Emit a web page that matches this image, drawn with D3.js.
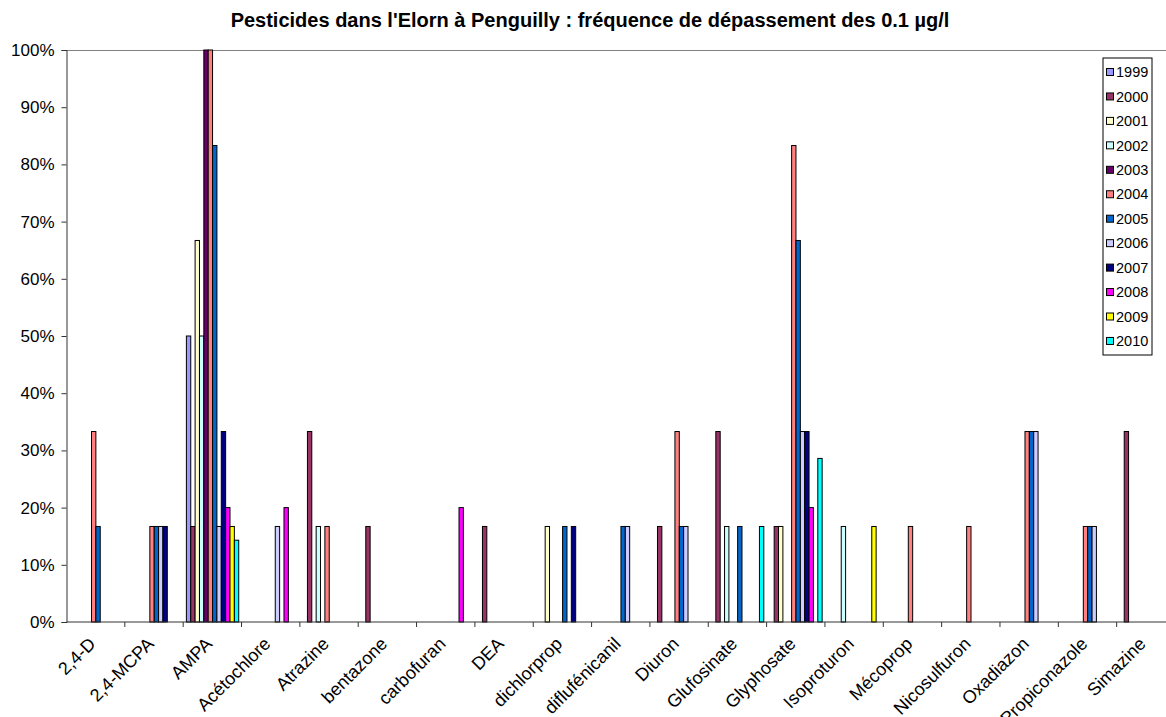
<!DOCTYPE html>
<html>
  <head>
    <meta charset="utf-8">
    <title>Pesticides dans l'Elorn à Penguilly</title>
    <script src="https://cdnjs.cloudflare.com/ajax/libs/d3/7.8.5/d3.min.js"></script>
    <style>
      body { margin: 0; background: white; }
      #chart { display: block; font-family: "Liberation Sans", Arial, sans-serif; overflow: hidden; }
      .title { font-weight: bold; font-size: 20px; }
      .axis text { font-size: 17px; fill: black; }
      .axis .catLabel { font-size: 18px; }
      .legend text { font-size: 14.5px; }
      .bar { stroke: black; stroke-width: 1; }
    </style>
  </head>
  <body>
    <svg id="chart" width="1166" height="717"></svg>
    <script>
      // data
      const categories = ["2,4-D", "2,4-MCPA", "AMPA", "Acétochlore", "Atrazine", "bentazone", "carbofuran", "DEA",
        "dichlorprop", "diflufénicanil", "Diuron", "Glufosinate", "Glyphosate", "Isoproturon", "Mécoprop",
        "Nicosulfuron", "Oxadiazon", "Propiconazole", "Simazine"];
      const years = ["1999", "2000", "2001", "2002", "2003", "2004", "2005", "2006", "2007", "2008", "2009", "2010"];
      // % of samples above 0.1 µg/l, one value per category (null = none)
      const v1999 = [null, null, 50, null, null, null, null, null, null, null, null, null, null, null, null, null, null, null, null];
      const v2000 = [null, null, 16.7, null, 33.3, 16.7, null, 16.7, null, null, 16.7, 33.3, 16.7, null, null, null, null, null, 33.3];
      const v2001 = [null, null, 66.7, null, null, null, null, null, 16.7, null, null, null, 16.7, null, null, null, null, null, null];
      const v2002 = [null, null, 50, null, 16.7, null, null, null, null, null, null, 16.7, null, 16.7, null, null, null, null, null];
      const v2003 = [null, null, 100, null, null, null, null, null, null, null, null, null, null, null, null, null, null, null, null];
      const v2004 = [33.3, 16.7, 100, null, 16.7, null, null, null, null, null, 33.3, null, 83.3, null, 16.7, 16.7, 33.3, 16.7, null];
      const v2005 = [16.7, 16.7, 83.3, null, null, null, null, null, 16.7, 16.7, 16.7, 16.7, 66.7, null, null, null, 33.3, 16.7, null];
      const v2006 = [null, 16.7, 16.7, 16.7, null, null, null, null, null, 16.7, 16.7, null, 33.3, null, null, null, 33.3, 16.7, null];
      const v2007 = [null, 16.7, 33.3, null, null, null, null, null, 16.7, null, null, null, 33.3, null, null, null, null, null, null];
      const v2008 = [null, null, 20, 20, null, null, 20, null, null, null, null, null, 20, null, null, null, null, null, null];
      const v2009 = [null, null, 16.7, null, null, null, null, null, null, null, null, null, null, 16.7, null, null, null, null, null];
      const v2010 = [null, null, 14.3, null, null, null, null, null, null, null, null, 16.7, 28.6, null, null, null, null, null, null];
      const yTicks = [0, 10, 20, 30, 40, 50, 60, 70, 80, 90, 100];

      const series = [v1999, v2000, v2001, v2002, v2003, v2004, v2005, v2006, v2007, v2008, v2009, v2010];
      const colors = ["#9999FF", "#993366", "#FFFFCC", "#CCFFFF", "#660066", "#FF8080",
        "#0066CC", "#CCCCFF", "#000080", "#FF00FF", "#FFFF00", "#00FFFF"];

      // name page elements
      const svg = d3.select("#chart");
      const plotLeft = 66.5;
      const plotRight = 1175;
      const plotTop = 50;
      const plotBottom = 622;

      // scales
      const x = d3.scaleBand()
        .domain(categories)
        .range([plotLeft, plotRight]);
      const x1 = d3.scaleBand()
        .domain(years)
        .range([3.2, x.bandwidth() - 2.8]);
      const y = d3.scaleLinear()
        .domain([0, 100])
        .range([plotBottom, plotTop]);
      const color = d3.scaleOrdinal()
        .domain(years)
        .range(colors);

      // title
      svg.append("text")
        .classed("title", true)
        .attr("x", 590)
        .attr("y", 27)
        .attr("text-anchor", "middle")
        .text("Pesticides dans l'Elorn à Penguilly : fréquence de dépassement des 0.1 µg/l");

      // plot border (only top edge shows)
      svg.append("line")
        .attr("x1", plotLeft)
        .attr("x2", 1166)
        .attr("y1", plotTop + 0.5)
        .attr("y2", plotTop + 0.5)
        .attr("stroke", "#808080");

      // bars
      const barData = [];
      series.forEach(function(values, s) {
        values.forEach(function(v, c) {
          if (v !== null) barData.push({ year: years[s], cat: categories[c], value: v });
        });
      });
      svg.append("g")
        .selectAll(".bar")
          .data(barData)
        .enter().append("rect")
          .classed("bar", true)
          .attr("x", function(d) { return x(d.cat) + x1(d.year); })
          .attr("y", function(d) { return y(d.value); })
          .attr("width", x1.bandwidth())
          .attr("height", function(d) { return plotBottom - y(d.value); })
          .attr("fill", function(d) { return color(d.year); });

      // y axis
      const yAxis = svg.append("g")
        .classed("axis", true)
        .attr("transform", "translate(" + plotLeft + ",0)")
        .call(d3.axisLeft(y)
          .tickValues(yTicks)
          .tickSize(5)
          .tickPadding(7)
          .tickFormat(function(d) { return d + "%"; }));
      yAxis.select(".domain").attr("stroke", "#333");
      yAxis.selectAll(".tick line").attr("stroke", "#333");

      // x axis, ticks on category boundaries
      const xAxis = svg.append("g")
        .classed("axis", true)
        .attr("transform", "translate(0," + plotBottom + ")");
      xAxis.append("line")
        .attr("x1", plotLeft)
        .attr("x2", 1166)
        .attr("stroke", "#333");
      xAxis.selectAll(".tickMark")
          .data(categories)
        .enter().append("line")
          .attr("x1", function(d) { return x(d) + x.bandwidth(); })
          .attr("x2", function(d) { return x(d) + x.bandwidth(); })
          .attr("y1", 0)
          .attr("y2", 5)
          .attr("stroke", "#333");
      xAxis.selectAll(".catLabel")
          .data(categories)
        .enter().append("text")
          .classed("catLabel", true)
          .attr("text-anchor", "end")
          .attr("transform", function(d) {
            return "translate(" + (x(d) + x.bandwidth() / 2 + 1) + ",23) rotate(-45)";
          })
          .text(function(d) { return d; });

      // legend
      const legend = svg.append("g")
        .classed("legend", true)
        .attr("transform", "translate(1103,58)");
      legend.append("rect")
        .attr("width", 49)
        .attr("height", 297)
        .attr("fill", "white")
        .attr("stroke", "black");
      const items = legend.selectAll(".item")
          .data(years)
        .enter().append("g")
          .attr("transform", function(d, i) { return "translate(0," + (14 + i * 24.45) + ")"; });
      items.append("rect")
        .attr("x", 3.5)
        .attr("y", -3.5)
        .attr("width", 7)
        .attr("height", 7)
        .attr("fill", function(d) { return color(d); })
        .attr("stroke", "black");
      items.append("text")
        .attr("x", 13)
        .attr("dy", "0.36em")
        .text(function(d) { return d; });
    </script>
  </body>
</html>
